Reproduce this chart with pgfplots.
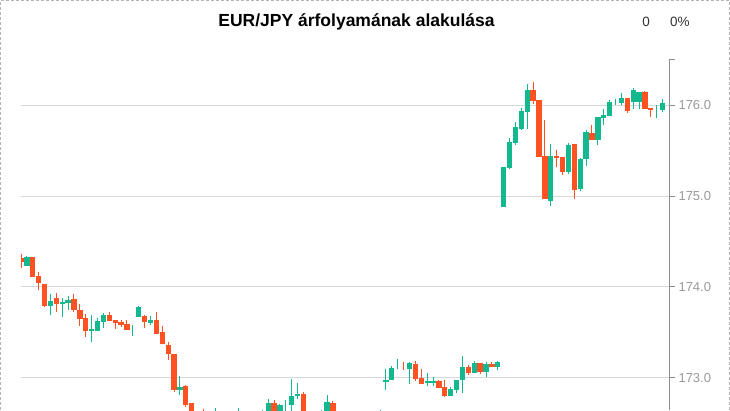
\documentclass[border=0pt]{standalone}
\usepackage{pgfplots}
\usepackage{pgfplotstable}
\pgfplotsset{compat=1.18}
\usepackage{fontspec}
\setmainfont{Liberation Sans}
\definecolor{cgreen}{HTML}{14B88F}
\definecolor{cred}{HTML}{FF5222}
\definecolor{gridc}{HTML}{D6D9DC}
\definecolor{axc}{HTML}{8C8C8C}
\definecolor{labc}{HTML}{999999}
\definecolor{bordc}{HTML}{B4B4B4}

\pgfplotstableread{
i o h l c
1 174.236 174.346 174.236 174.335
5 173.797 173.925 173.695 173.849
7 173.812 173.878 173.676 173.841
8 173.830 173.896 173.742 173.859
12 173.522 173.695 173.402 173.544
13 173.522 173.659 173.519 173.629
14 173.621 173.713 173.555 173.695
19 173.574 173.585 173.464 173.574
20 173.676 173.797 173.676 173.786
22 173.610 173.684 173.585 173.640
27 172.864 173.025 172.809 172.897
32 172.40 172.55 172.35 172.50
33 172.45 172.674 172.40 172.60
36 172.38 172.60 172.35 172.55
37 172.52 172.674 172.48 172.62
39 172.48 172.60 172.42 172.56
40 172.52 172.64 172.48 172.62
41 172.58 172.645 172.55 172.64
42 172.60 172.773 172.56 172.729
44 172.61 172.718 172.58 172.707
45 172.58 172.762 172.55 172.64
46 172.699 172.992 172.62 172.806
47 172.798 172.948 172.773 172.828
50 172.50 172.62 172.46 172.58
51 172.57 172.645 172.53 172.64
52 172.62 172.817 172.60 172.740
55 172.55 172.63 172.52 172.60
57 172.52 172.62 172.48 172.58
58 172.58 172.64 172.55 172.62
60 172.55 172.64 172.52 172.62
61 172.60 172.645 172.58 172.64
62 172.952 173.102 172.864 172.981
63 172.981 173.135 172.981 173.113
64 173.124 173.212 173.102 173.124
66 173.102 173.179 172.937 173.168
69 172.948 173.058 172.915 172.970
70 172.948 173.014 172.915 172.970
73 172.806 172.905 172.806 172.883
74 172.872 172.981 172.839 172.981
75 172.981 173.245 172.839 173.124
77 173.058 173.190 173.058 173.168
79 173.069 173.179 173.014 173.157
81 173.124 173.190 173.091 173.179
82 174.884 175.319 174.884 175.319
83 175.312 175.634 175.297 175.597
84 175.586 175.813 175.564 175.758
85 175.737 175.967 175.726 175.934
86 175.923 176.231 175.737 176.165
90 174.949 175.572 174.895 175.440
93 175.268 175.583 175.246 175.561
95 175.081 175.418 175.059 175.407
96 175.407 175.726 175.330 175.704
98 175.616 175.868 175.561 175.868
99 175.857 175.956 175.780 175.890
100 175.883 176.055 175.883 176.033
101 176.033 176.066 176.000 176.033
102 176.022 176.132 176.000 176.077
104 176.033 176.187 175.956 176.165
105 176.033 176.143 175.956 176.143
108 175.945 176.000 175.857 175.945
109 175.945 176.066 175.923 176.022
}\up

\pgfplotstableread{
i o h l c
0 174.317 174.364 174.214 174.280
2 174.335 174.335 174.115 174.115
3 174.123 174.167 173.969 174.043
4 174.035 174.035 173.786 173.794
6 173.878 173.940 173.731 173.812
9 173.870 173.925 173.731 173.750
10 173.750 173.816 173.577 173.651
11 173.662 173.706 173.446 173.512
15 173.695 173.731 173.629 173.632
16 173.640 173.640 173.541 173.604
17 173.621 173.640 173.560 173.585
18 173.596 173.640 173.530 173.530
21 173.684 173.695 173.555 173.610
23 173.640 173.731 173.486 173.486
24 173.508 173.574 173.369 173.369
25 173.366 173.391 173.201 173.263
26 173.267 173.267 172.842 172.864
28 172.915 172.926 172.677 172.707
29 172.729 172.729 172.40 172.45
30 172.55 172.60 172.35 172.40
31 172.60 172.663 172.45 172.50
34 172.58 172.62 172.40 172.45
35 172.46 172.50 172.30 172.38
38 172.60 172.63 172.44 172.48
43 172.729 172.762 172.57 172.60
48 172.828 172.850 172.56 172.60
49 172.60 172.62 172.45 172.50
53 172.729 172.751 172.58 172.62
54 172.62 172.64 172.50 172.55
56 172.60 172.62 172.48 172.52
59 172.62 172.64 172.52 172.55
65 173.146 173.179 173.091 173.146
67 173.157 173.190 172.970 172.992
68 173.003 173.102 172.937 172.937
71 172.970 172.981 172.894 172.894
72 172.905 172.981 172.795 172.806
76 173.124 173.146 173.036 173.058
78 173.168 173.168 173.047 173.069
80 173.157 173.179 173.124 173.124
87 176.165 176.252 176.014 176.047
88 176.055 176.055 175.429 175.429
89 175.440 175.835 174.971 174.971
91 175.440 175.506 175.319 175.426
92 175.426 175.429 175.235 175.268
94 175.572 175.572 174.971 175.070
97 175.693 175.780 175.616 175.616
103 176.077 176.077 175.912 175.934
106 176.143 176.150 175.956 175.956
107 175.967 175.967 175.872 175.948
}\down

\begin{document}
\begin{tikzpicture}[x=1bp,y=1bp]
\path[use as bounding box] (0,0) rectangle (730,410);
\draw[bordc, line width=1bp, dash pattern=on 3bp off 2bp] (0.5,0) -- (0.5,409.5) -- (729.5,409.5) -- (729.5,0);
\node[anchor=base, font=\bfseries\fontsize{17.5bp}{20bp}\selectfont, text=black] at (356.5,383.5) {EUR/JPY árfolyamának alakulása};
\node[anchor=base, font=\fontsize{13.5bp}{16bp}\selectfont, text=black!80] at (646,384) {0};
\node[anchor=base west, inner sep=0pt, font=\fontsize{13.5bp}{16bp}\selectfont, text=black!80] at (670,384) {0\%};
\begin{axis}[
  at={(21bp,0bp)}, anchor=south west,
  scale only axis, width=648bp, height=350bp,
  xmin=0, xmax=110.09,
  ymin=172.648, ymax=176.495,
  axis x line=none,
  axis y line*=right,
  axis line style={axc, line width=1bp},
  ytick={173,174,175,176},
  extra y ticks={176.495}, extra y tick labels={},
  extra y tick style={grid=none},
  tick align=outside,
  major tick length=6bp,
  tick style={axc, line width=1bp},
  ymajorgrids,
  grid style={gridc, line width=1bp},
  yticklabel style={text=labc, font=\fontsize{13bp}{15bp}\selectfont, /pgf/number format/.cd, fixed, fixed zerofill, precision=1, assume math mode=true},
  clip=true,
  candle/.style 2 args={draw=none, mark=none, error bars/.cd, y dir=both, y explicit, error mark=none, error bar style={draw=#1, line width=#2}},
]
\addplot[candle={cgreen}{1bp}]
  table[x=i, y expr={(\thisrow{h}+\thisrow{l})/2}, y error expr={(\thisrow{h}-\thisrow{l})/2}] {\up};
\addplot[candle={cgreen}{5.3bp}]
  table[x=i, y expr={(\thisrow{o}+\thisrow{c})/2}, y error expr={abs(\thisrow{c}-\thisrow{o})/2}] {\up};
\addplot[candle={cred}{1bp}]
  table[x=i, y expr={(\thisrow{h}+\thisrow{l})/2}, y error expr={(\thisrow{h}-\thisrow{l})/2}] {\down};
\addplot[candle={cred}{5.3bp}]
  table[x=i, y expr={(\thisrow{o}+\thisrow{c})/2}, y error expr={abs(\thisrow{o}-\thisrow{c})/2}] {\down};
\end{axis}
\end{tikzpicture}
\end{document}
